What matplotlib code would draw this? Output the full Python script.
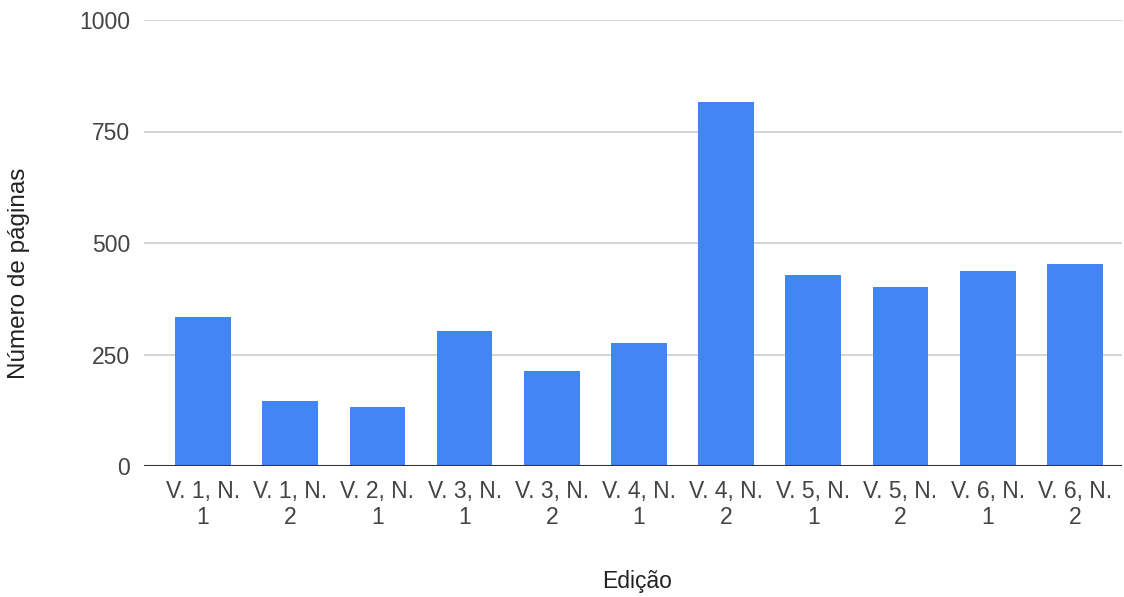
import matplotlib.pyplot as plt
import numpy as np

plt.rcParams['font.family'] = ['Liberation Sans', 'DejaVu Sans']

edicoes = ["V. 1, N.\n1", "V. 1, N.\n2", "V. 2, N.\n1", "V. 3, N.\n1", "V. 3, N.\n2",
           "V. 4, N.\n1", "V. 4, N.\n2", "V. 5, N.\n1", "V. 5, N.\n2", "V. 6, N.\n1",
           "V. 6, N.\n2"]
paginas = [335, 146, 133, 303, 214, 276, 816, 428, 401, 437, 454]
yticks = [0, 250, 500, 750, 1000]

fig = plt.figure(figsize=(11.24, 5.97), dpi=100)
ax = fig.add_axes([144 / 1124, 1 - 466 / 597, 978 / 1124, 446 / 597])

x = np.arange(len(edicoes))
ax.bar(x, paginas, width=0.64, color='#4285F4', zorder=3)

ax.set_xlim(-0.677, 10.54)
ax.set_ylim(0, 1000)
ax.set_yticks(yticks)
ax.set_xticks(x)
ax.set_xticklabels(edicoes, linespacing=1.2)
ax.grid(axis='y', color='#cccccc', linewidth=1.2, zorder=0)
ax.axhline(0, color='#333333', linewidth=1.5, zorder=4)

for s in ax.spines.values():
    s.set_visible(False)
ax.tick_params(axis='both', length=0, labelsize=16.5, colors='#444444')
ax.tick_params(axis='x', pad=10)
ax.tick_params(axis='y', pad=10)

ax.set_ylabel('Número de páginas', fontsize=17.5, color='#222222')
ax.yaxis.set_label_coords(-0.117, 0.433)
ax.set_xlabel('Edição', fontsize=16.5, color='#222222', va='center')
ax.xaxis.set_label_coords(0.504, -0.258)

fig.savefig('out.png', dpi=100)
